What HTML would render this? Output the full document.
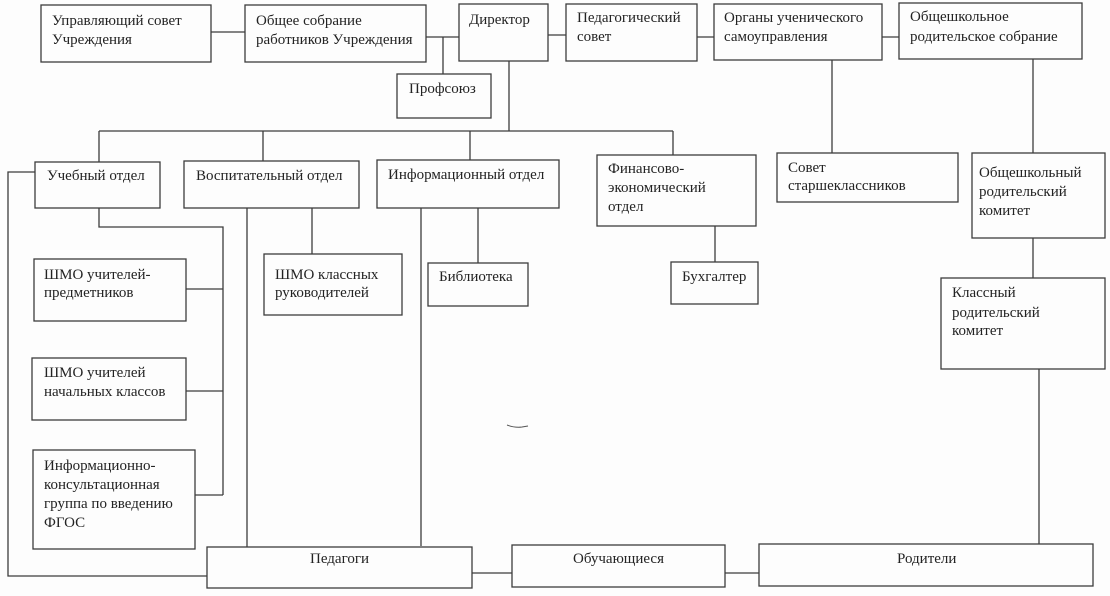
<!DOCTYPE html>
<html><head><meta charset="utf-8"><style>
html,body{margin:0;padding:0;background:#fdfdfd;}
svg{display:block;}
text{font-family:"Liberation Serif","DejaVu Serif",serif;font-size:15px;fill:#232323;}
</style></head><body>
<svg width="1110" height="596" viewBox="0 0 1110 596" xmlns="http://www.w3.org/2000/svg">
<rect x="0" y="0" width="1110" height="596" fill="#fdfdfd"/>
<g fill="none" stroke="#3c3c3c" stroke-width="1.3">
<!-- boxes -->
<rect x="41" y="5" width="170" height="57"/>
<rect x="245" y="5" width="181" height="57"/>
<rect x="459" y="4" width="89" height="57"/>
<rect x="566" y="4" width="131" height="57"/>
<rect x="714" y="4" width="168" height="56"/>
<rect x="899" y="3" width="183" height="56"/>
<rect x="397" y="74" width="94" height="44"/>
<rect x="35" y="162" width="125" height="46"/>
<rect x="184" y="161" width="175" height="47"/>
<rect x="377" y="160" width="182" height="48"/>
<rect x="597" y="155" width="159" height="71"/>
<rect x="777" y="153" width="181" height="49"/>
<rect x="972" y="153" width="133" height="85"/>
<rect x="34" y="259" width="152" height="62"/>
<rect x="264" y="254" width="138" height="61"/>
<rect x="428" y="263" width="100" height="43"/>
<rect x="671" y="262" width="87" height="42"/>
<rect x="32" y="358" width="154" height="62"/>
<rect x="941" y="278" width="164" height="91"/>
<rect x="33" y="450" width="162" height="99"/>
<rect x="207" y="547" width="265" height="41"/>
<rect x="512" y="545" width="213" height="42"/>
<rect x="759" y="544" width="334" height="42"/>
<!-- connectors -->
<path d="M211 32H245"/>
<path d="M426 37H459M443 37V74"/>
<path d="M548 35H566"/>
<path d="M697 37H714"/>
<path d="M882 37H899"/>
<path d="M509 61V131"/>
<path d="M99 131H673"/>
<path d="M99 131V162M263 131V161M470 131V160M673 131V155"/>
<path d="M832 60V153"/>
<path d="M1033 59V153"/>
<path d="M99 208V227H223V495"/>
<path d="M186 289H223M186 391H223M195 495H223"/>
<path d="M35 172H8V576H207"/>
<path d="M247 208V547"/>
<path d="M312 208V254"/>
<path d="M421 208V546"/>
<path d="M478 208V263"/>
<path d="M715 226V262"/>
<path d="M1033 238V278"/>
<path d="M1039 369V544"/>
<path d="M472 573H512"/>
<path d="M725 573H759"/>
</g>
<path d="M507 425 Q515 428 522 427 L528 426" fill="none" stroke="#555" stroke-width="1"/>

<text x="52" y="25">Управляющий совет</text>
<text x="52" y="44">Учреждения</text>
<text x="256" y="25">Общее собрание</text>
<text x="256" y="44">работников Учреждения</text>
<text x="469" y="24">Директор</text>
<text x="577" y="22">Педагогический</text>
<text x="577" y="41">совет</text>
<text x="724" y="22">Органы ученического</text>
<text x="724" y="41">самоуправления</text>
<text x="910" y="21">Общешкольное</text>
<text x="910" y="41">родительское собрание</text>
<text x="409" y="93">Профсоюз</text>
<text x="47" y="180">Учебный отдел</text>
<text x="196" y="180">Воспитательный отдел</text>
<text x="388" y="179">Информационный отдел</text>
<text x="608" y="173">Финансово-</text>
<text x="608" y="192">экономический</text>
<text x="608" y="211">отдел</text>
<text x="788" y="172">Совет</text>
<text x="788" y="190">старшеклассников</text>
<text x="979" y="177">Общешкольный</text>
<text x="979" y="196">родительский</text>
<text x="979" y="215">комитет</text>
<text x="44" y="279">ШМО учителей-</text>
<text x="44" y="297">предметников</text>
<text x="275" y="279">ШМО классных</text>
<text x="275" y="297">руководителей</text>
<text x="439" y="281">Библиотека</text>
<text x="682" y="281">Бухгалтер</text>
<text x="44" y="377">ШМО учителей</text>
<text x="44" y="396">начальных классов</text>
<text x="952" y="297">Классный</text>
<text x="952" y="317">родительский</text>
<text x="952" y="335">комитет</text>
<text x="44" y="470">Информационно-</text>
<text x="44" y="489">консультационная</text>
<text x="44" y="508">группа по введению</text>
<text x="44" y="527">ФГОС</text>
<text x="310" y="563">Педагоги</text>
<text x="573" y="563">Обучающиеся</text>
<text x="897" y="563">Родители</text>
</svg>
</body></html>
